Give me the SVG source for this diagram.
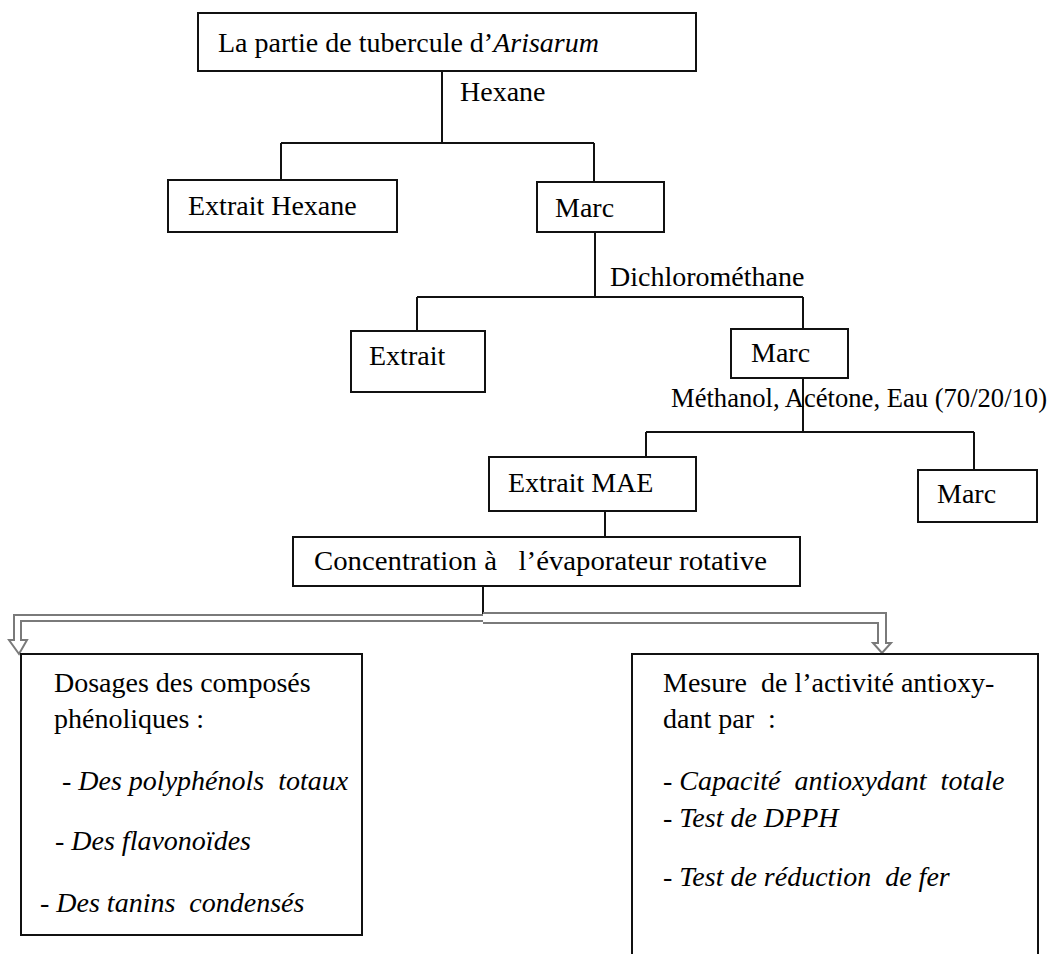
<svg xmlns="http://www.w3.org/2000/svg" width="1054" height="954" viewBox="0 0 1054 954">
<style>
text{font-family:"Liberation Serif","Times New Roman","DejaVu Serif",serif;font-size:28px;fill:#000;white-space:pre}
.it{font-style:italic}
.box{fill:#fff;stroke:#111;stroke-width:2}
.ln{fill:none;stroke:#111;stroke-width:2}
.dbl{fill:#fff;stroke:#7a7a7a;stroke-width:2;stroke-linejoin:miter}
</style>
<rect width="1054" height="954" fill="#fff"/>
<g id="connectors">
<path class="ln" d="M442 71V143M281 143H594M281 143V180M594 143V182"/>
<path class="ln" d="M595 232V297M417 297H803M417 297V331M803 297V329"/>
<path class="ln" d="M803 378V432M646 432H974M646 432V457M974 432V470"/>
<path class="ln" d="M605 511V537M483 586V622"/>
<path class="dbl" d="M483 615H14V640H9L19 654L27 640H21V621H483"/>
<path class="dbl" d="M483 613H886V643H891L882 653L873 643H878V623H483"/>
<text x="460" y="101">Hexane</text>
<text x="610" y="286">Dichlorométhane</text>
<text x="671" y="407" textLength="376" lengthAdjust="spacingAndGlyphs">Méthanol, Acétone, Eau (70/20/10)</text>
</g>
<g id="n-tubercule"><rect class="box" x="198" y="13" width="498" height="58"/><text x="218" y="52">La partie de tubercule d’<tspan class="it">Arisarum</tspan></text></g>
<g id="n-extrait-hexane"><rect class="box" x="168" y="180" width="229" height="52"/><text x="188" y="215">Extrait Hexane</text></g>
<g id="n-marc1"><rect class="box" x="537" y="182" width="127" height="50"/><text x="555" y="217">Marc</text></g>
<g id="n-extrait"><rect class="box" x="351" y="331" width="134" height="61"/><text x="369" y="365">Extrait</text></g>
<g id="n-marc2"><rect class="box" x="731" y="329" width="117" height="49"/><text x="751" y="362">Marc</text></g>
<g id="n-extrait-mae"><rect class="box" x="489" y="457" width="207" height="54"/><text x="508" y="492">Extrait MAE</text></g>
<g id="n-marc3"><rect class="box" x="918" y="470" width="119" height="52"/><text x="937" y="503">Marc</text></g>
<g id="n-concentration"><rect class="box" x="293" y="537" width="507" height="49"/><text x="314" y="570" textLength="453" lengthAdjust="spacingAndGlyphs">Concentration à   l’évaporateur rotative</text></g>
<g id="n-dosages"><rect class="box" x="21" y="654" width="341" height="281"/>
<text x="54" y="692">Dosages des composés</text>
<text x="54" y="728">phénoliques :</text>
<text x="62" y="790">- <tspan class="it">Des polyphénols  totaux</tspan></text>
<text x="55" y="850">- <tspan class="it">Des flavonoïdes</tspan></text>
<text x="40" y="912">- <tspan class="it">Des tanins  condensés</tspan></text>
</g>
<g id="n-mesure"><rect class="box" x="632" y="654" width="406" height="320"/>
<text x="663" y="692">Mesure  de l’activité antioxy-</text>
<text x="663" y="728">dant par  :</text>
<text x="663" y="790">- <tspan class="it">Capacité  antioxydant  totale</tspan></text>
<text x="663" y="827">- <tspan class="it">Test de DPPH</tspan></text>
<text x="663" y="886">- <tspan class="it">Test de réduction  de fer</tspan></text>
</g>
</svg>
